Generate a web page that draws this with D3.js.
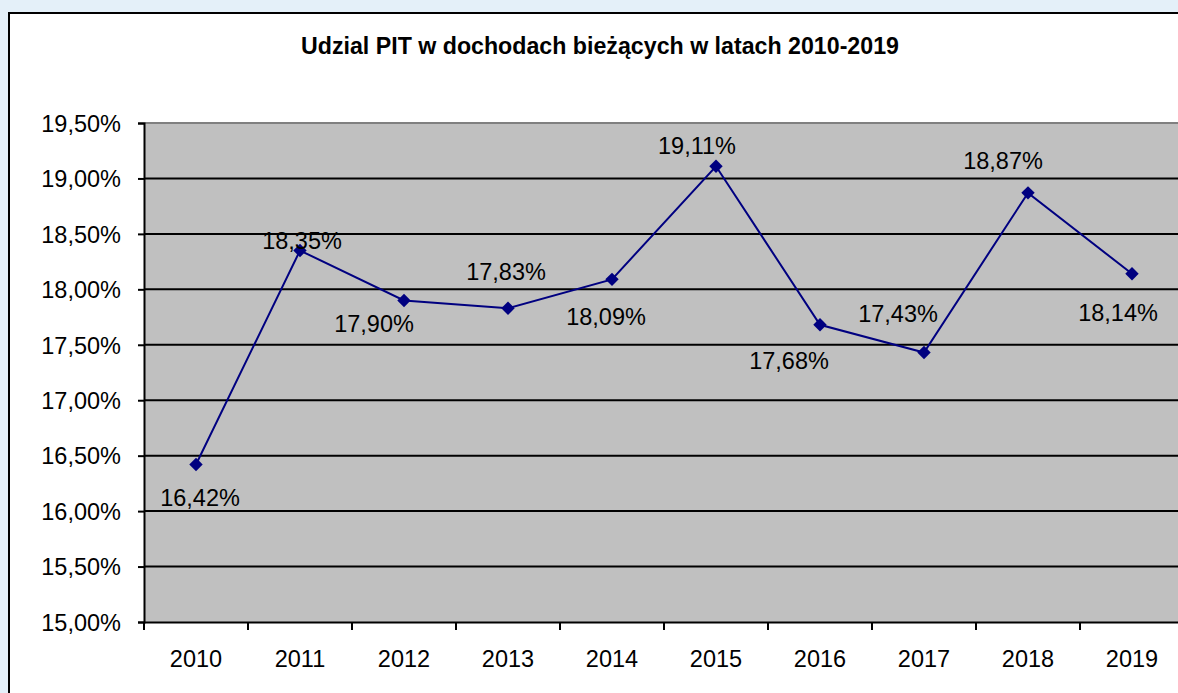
<!DOCTYPE html>
<html>
<head>
<meta charset="utf-8">
<script src="https://cdn.jsdelivr.net/npm/d3@7"></script>
<style>
  html, body { margin: 0; padding: 0; background: #e4f0f9; overflow: hidden; }
  svg { display: block; font-family: "Liberation Sans", Arial, sans-serif; }
</style>
</head>
<body>
<svg id="chart" width="1178" height="693"></svg>
<script>
const years = ["2010", "2011", "2012", "2013", "2014", "2015", "2016", "2017", "2018", "2019"];
const shares = [16.42, 18.35, 17.90, 17.83, 18.09, 19.11, 17.68, 17.43, 18.87, 18.14];
const yTicks = [15.0, 15.5, 16.0, 16.5, 17.0, 17.5, 18.0, 18.5, 19.0, 19.5];
const title = "Udzial PIT w dochodach bieżących w latach 2010-2019";

// where Excel put each data label, relative to its point
const labelOffsets = [[4, 33], [2, -10], [-30, 23], [-2, -36], [-6, 37], [-19, -20], [-31, 36], [-26, -39], [-25, -32], [-14, 39]];

const svg = d3.select("#chart");
const fmt = v => v.toFixed(2).replace(".", ",") + "%";
const fontSize = 23.5;

// white chart box, runs off the right and bottom edges
svg.append("rect")
    .attr("x", 9).attr("y", 13)
    .attr("width", 1200).attr("height", 720)
    .attr("fill", "#fff")
    .attr("stroke", "#000")
    .attr("stroke-width", 2);

svg.append("text")
    .attr("x", 600).attr("y", 48)
    .attr("text-anchor", "middle")
    .attr("dominant-baseline", "middle")
    .attr("font-weight", "bold")
    .attr("font-size", 23.2)
    .text(title);

const plot = {left: 144, top: 123, bottom: 622, right: 1184};

const x = d3.scaleBand().domain(years).range([plot.left, plot.right]);
const y = d3.scaleLinear().domain([15, 19.5]).range([plot.bottom, plot.top]);

svg.append("rect")
    .attr("x", plot.left).attr("y", plot.top)
    .attr("width", plot.right - plot.left).attr("height", plot.bottom - plot.top)
    .attr("fill", "#c0c0c0");

svg.append("line")
    .attr("x1", plot.left).attr("x2", plot.right)
    .attr("y1", plot.top).attr("y2", plot.top)
    .attr("stroke", "#808080").attr("stroke-width", 2);

// gridlines
svg.append("g")
    .selectAll("line")
    .data(yTicks.slice(1, -1))
    .join("line")
    .attr("x1", plot.left).attr("x2", plot.right)
    .attr("y1", d => y(d)).attr("y2", d => y(d))
    .attr("stroke", "#000").attr("stroke-width", 2);

const yAxis = svg.append("g")
    .attr("transform", `translate(${plot.left},0)`)
    .call(d3.axisLeft(y).tickValues(yTicks).tickFormat(fmt).tickSize(6).tickPadding(17));

const xAxis = svg.append("g")
    .attr("transform", `translate(0,${plot.bottom})`)
    .call(d3.axisBottom(x).tickSize(0).tickPadding(28));

// Excel puts the x ticks between categories
xAxis.selectAll(".bound")
    .data(years)
    .join("line")
    .classed("bound", true)
    .attr("x1", d => x(d)).attr("x2", d => x(d))
    .attr("y1", 0).attr("y2", 8)
    .attr("stroke", "#000").attr("stroke-width", 2);

[yAxis, xAxis].forEach(a => {
    a.attr("font-size", fontSize).attr("font-family", "Liberation Sans, Arial, sans-serif");
    a.selectAll(".domain").attr("stroke", "#000").attr("stroke-width", 2);
    a.selectAll(".tick line").attr("stroke", "#000").attr("stroke-width", 2);
    a.selectAll("text").attr("fill", "#000");
});
yAxis.selectAll("text").attr("dy", "0.35em");

const cx = d => x(d) + x.bandwidth() / 2;

svg.append("path")
    .datum(shares)
    .attr("fill", "none")
    .attr("stroke", "#000080")
    .attr("stroke-width", 2)
    .attr("d", d3.line().x((d, i) => cx(years[i])).y(d => y(d)));

svg.append("g")
    .selectAll("path")
    .data(shares)
    .join("path")
    .attr("d", d3.symbol(d3.symbolSquare, 90))
    .attr("transform", (d, i) => `translate(${cx(years[i])},${y(d)}) rotate(45)`)
    .attr("fill", "#000080");

svg.append("g")
    .selectAll("text")
    .data(shares)
    .join("text")
    .attr("x", (d, i) => cx(years[i]) + labelOffsets[i][0])
    .attr("y", (d, i) => y(d) + labelOffsets[i][1])
    .attr("text-anchor", "middle")
    .attr("dy", "0.35em")
    .attr("font-size", fontSize)
    .text(fmt);
</script>
</body>
</html>
